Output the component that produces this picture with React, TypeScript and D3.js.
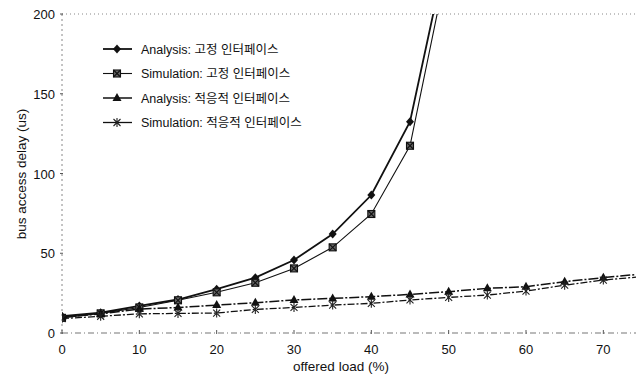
import React from "react";
import * as d3 from "d3";

const loads = [0, 5, 10, 15, 20, 25, 30, 35, 40, 45, 50];
const loadsLong = [0, 5, 10, 15, 20, 25, 30, 35, 40, 45, 50, 55, 60, 65, 70, 75];
const analysisFixed = [10.5, 12.7, 17, 21, 27.5, 34.7, 45.8, 62, 86.5, 132.5, 245];
const simulationFixed = [9.5, 12.3, 16, 20.5, 25.5, 31.5, 40.5, 53.7, 74.6, 117.4, 235];
const analysisAdaptive = [10, 12, 15, 16, 17.5, 19, 20.7, 21.7, 22.8, 24.2, 25.9, 28, 29, 32.2, 34.7, 37];
const simulationAdaptive = [9, 10.5, 12, 12.3, 12.5, 14.8, 16, 17.5, 18.6, 20.7, 22.3, 23.8, 26.3, 30, 33.2, 35.3];
const xTicks = [0, 10, 20, 30, 40, 50, 60, 70];
const yTicks = [0, 50, 100, 150, 200];
const legendLabels = [
  "Analysis: 고정 인터페이스",
  "Simulation: 고정 인터페이스",
  "Analysis: 적응적 인터페이스",
  "Simulation: 적응적 인터페이스",
];

const W = 636;
const H = 374;
const x = d3.scaleLinear().domain([0, 75]).range([62, 642]);
const y = d3.scaleLinear().domain([0, 200]).range([333, 14]);

type Marker = "diamond" | "squareX" | "triangle" | "star";

function MarkerShape({ kind, cx, cy }: { kind: Marker; cx: number; cy: number }) {
  if (kind === "diamond") {
    return <path d={`M${cx},${cy - 4.5}L${cx + 4},${cy}L${cx},${cy + 4.5}L${cx - 4},${cy}Z`} fill="#111" />;
  }
  if (kind === "squareX") {
    return (
      <g stroke="#111" strokeWidth={1.1} fill="#666">
        <rect x={cx - 3.5} y={cy - 3.5} width={7} height={7} />
        <path d={`M${cx - 3.5},${cy - 3.5}L${cx + 3.5},${cy + 3.5}M${cx + 3.5},${cy - 3.5}L${cx - 3.5},${cy + 3.5}`} />
      </g>
    );
  }
  if (kind === "triangle") {
    return <path d={`M${cx},${cy - 5}L${cx + 4.5},${cy + 3}L${cx - 4.5},${cy + 3}Z`} fill="#111" />;
  }
  return (
    <path
      d={`M${cx - 3.5},${cy - 3.5}L${cx + 3.5},${cy + 3.5}M${cx + 3.5},${cy - 3.5}L${cx - 3.5},${cy + 3.5}M${cx},${cy - 4.5}L${cx},${cy + 4.5}`}
      stroke="#222"
      strokeWidth={1.1}
      fill="none"
    />
  );
}

const series = [
  { xs: loads, ys: analysisFixed, marker: "diamond" as Marker, width: 1.8, dash: undefined as string | undefined },
  { xs: loads, ys: simulationFixed, marker: "squareX" as Marker, width: 1.1, dash: undefined },
  { xs: loadsLong, ys: analysisAdaptive, marker: "triangle" as Marker, width: 1.5, dash: "10,2,2,2" },
  { xs: loadsLong, ys: simulationAdaptive, marker: "star" as Marker, width: 1.3, dash: "7,2,2,2" },
];

export default function App() {
  const line = d3
    .line<[number, number]>()
    .x((d) => x(d[0]))
    .y((d) => y(d[1]));
  const font = "Liberation Sans, Arial, sans-serif";
  return (
    <svg width={W} height={H} style={{ position: "absolute", left: 0, top: 0, background: "#fff" }} fontFamily={font}>
      <defs>
        <clipPath id="plot">
          <rect x={62} y={14} width={W - 62} height={333 - 14 + 6} />
        </clipPath>
      </defs>
      <line x1={62} x2={W} y1={14} y2={14} stroke="#888" strokeWidth={1} strokeDasharray="1,3" />
      <line x1={62} x2={62} y1={14} y2={333} stroke="#888" strokeWidth={1} strokeDasharray="2,3" />
      <line x1={62} x2={W} y1={333} y2={333} stroke="#777" strokeWidth={1.2} strokeDasharray="6,3,1,3" />
      {yTicks.map((t) => (
        <g key={t}>
          <line x1={60} x2={63} y1={y(t)} y2={y(t)} stroke="#555" />
          <text x={55} y={y(t) + 5} fontSize={13} textAnchor="end" fill="#111">
            {t}
          </text>
        </g>
      ))}
      {xTicks.map((t) => (
        <g key={t}>
          <line x1={x(t)} x2={x(t)} y1={330} y2={334} stroke="#555" />
          <text x={x(t)} y={354} fontSize={13} textAnchor="middle" fill="#111">
            {t}
          </text>
        </g>
      ))}
      <text x={341} y={371} fontSize={13.5} textAnchor="middle" fill="#111">
        offered load (%)
      </text>
      <text transform="translate(26,174) rotate(-90)" fontSize={13.5} textAnchor="middle" fill="#111">
        bus access delay (us)
      </text>
      <g clipPath="url(#plot)">
        {series.map((s, i) => {
          const pts = s.xs.map((xv, j) => [xv, s.ys[j]] as [number, number]);
          return (
            <g key={i}>
              <path d={line(pts) || ""} fill="none" stroke="#111" strokeWidth={s.width} strokeDasharray={s.dash} />
              {pts
                .filter((p) => p[1] <= 200)
                .map((p, j) => (
                  <MarkerShape key={j} kind={s.marker} cx={x(p[0])} cy={y(p[1])} />
                ))}
            </g>
          );
        })}
      </g>
      {legendLabels.map((lab, i) => {
        const ly = 49 + i * 24.5;
        const s = series[i];
        return (
          <g key={i}>
            <line x1={103} x2={132} y1={ly} y2={ly} stroke="#111" strokeWidth={s.width} />
            <MarkerShape kind={s.marker} cx={117} cy={ly} />
            <text x={141} y={ly + 4.5} fontSize={12.5} fill="#111" fontFamily="Liberation Sans, 'Noto Sans CJK KR', sans-serif">
              {lab}
            </text>
          </g>
        );
      })}
    </svg>
  );
}
